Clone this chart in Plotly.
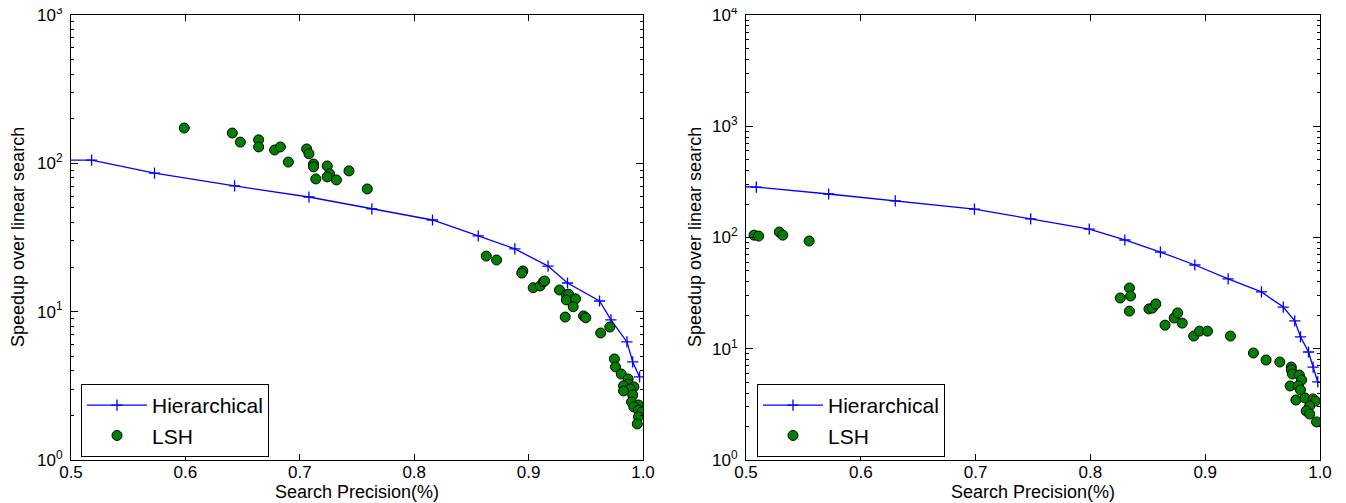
import plotly.graph_objects as go

# left panel: hierarchical curve and LSH scatter
hier_prec_a = [0.47, 0.518, 0.573, 0.643, 0.708, 0.763, 0.816, 0.856, 0.888, 0.917, 0.934,
               0.962, 0.972, 0.986, 0.991, 0.997]
hier_speed_a = [105, 105, 86, 70.4, 59.3, 49.3, 41.5, 32.4, 26.5, 20.3, 15.6,
                11.8, 8.8, 6.25, 4.58, 3.63]

lsh_prec_a = [0.599, 0.641, 0.648, 0.664, 0.664, 0.678, 0.683, 0.690, 0.706, 0.708, 0.712,
              0.712, 0.714, 0.724, 0.726, 0.724, 0.732, 0.743, 0.759,
              0.863, 0.872, 0.895, 0.894, 0.904, 0.910, 0.913, 0.914, 0.927, 0.933, 0.935,
              0.933, 0.941, 0.939, 0.932, 0.948, 0.950, 0.963, 0.971, 0.975, 0.976, 0.981,
              0.987, 0.987, 0.983, 0.992, 0.989, 0.983, 0.991, 0.990, 0.996, 0.992, 0.996,
              0.999, 0.996, 0.995]
lsh_speed_a = [173, 160, 139, 144, 129, 123, 129, 102, 125, 116, 99,
               94.6, 78.5, 96, 84.9, 81, 77.3, 88.9, 67.2,
               23.7, 22.3, 18.8, 18.2, 14.5, 14.9, 15.9, 16.1, 14.0, 13.0, 13.1,
               12.0, 12.2, 10.8, 9.2, 9.36, 9.1, 7.18, 7.88, 4.80, 4.24, 3.80,
               3.52, 3.25, 3.16, 3.11, 3.01, 2.92, 2.74, 2.46, 2.35, 2.28, 2.17,
               2.11, 1.95, 1.75]

# right panel
hier_prec_b = [0.47, 0.509, 0.572, 0.630, 0.699, 0.748, 0.799, 0.830, 0.861, 0.891, 0.920,
               0.949, 0.968, 0.978, 0.983, 0.990, 0.994, 0.998]
hier_speed_b = [292, 284, 246, 213, 180, 147, 119, 95, 74, 56.6, 42.4,
                32.4, 23.7, 17.8, 12.8, 9.35, 6.85, 5.03]

lsh_prec_b = [0.507, 0.511, 0.529, 0.532, 0.555,
              0.826, 0.834, 0.835, 0.834, 0.851, 0.854, 0.857, 0.865, 0.873, 0.876, 0.880,
              0.890, 0.895, 0.902, 0.922, 0.942, 0.953, 0.965, 0.975, 0.975, 0.976, 0.982,
              0.984, 0.974, 0.981, 0.983, 0.979, 0.987, 0.994, 0.996, 0.991, 0.988, 0.991,
              0.997]
lsh_speed_b = [105, 103, 112, 105, 93,
               28.6, 35.2, 29.8, 21.8, 22.8, 23.2, 25.3, 16.3, 18.9, 21.0, 17.0,
               13.0, 14.4, 14.4, 13.0, 9.16, 7.92, 7.6, 6.85, 6.44, 5.93, 5.81,
               5.24, 4.63, 4.63, 4.26, 3.46, 3.61, 3.54, 3.39, 3.06, 2.76, 2.59,
               2.20]

x_ticks = [0.5, 0.6, 0.7, 0.8, 0.9, 1.0]
x_title = "Search Precision(%)"
y_title = "Speedup over linear search"

FONT = "Liberation Sans, Arial, sans-serif"
BLUE = "#0000ff"
GREEN = "#008000"

W, H = 1346, 503
OFF = 8  # page body margin shifts the figure by this much


# convert screen pixels to paper fractions
def px(x):
    return (x - OFF) / W


def py(y):
    return 1 - (y - OFF) / H


fig = go.Figure()

panels = [
    (hier_prec_a, hier_speed_a, lsh_prec_a, lsh_speed_a, "x", "y", "legend"),
    (hier_prec_b, hier_speed_b, lsh_prec_b, lsh_speed_b, "x2", "y2", "legend2"),
]
for hp, hs, lp, ls, xa, ya, lg in panels:
    fig.add_trace(go.Scatter(x=hp, y=hs, mode="lines+markers", name="Hierarchical",
                             xaxis=xa, yaxis=ya, legend=lg,
                             line=dict(color=BLUE, width=1.3),
                             marker=dict(symbol="cross-thin", size=8,
                                         line=dict(color=BLUE, width=1.3))))
    fig.add_trace(go.Scatter(x=lp, y=ls, mode="markers", name="LSH",
                             xaxis=xa, yaxis=ya, legend=lg,
                             marker=dict(symbol="circle", size=10, color=GREEN,
                                         line=dict(color="black", width=1))))

axis_common = dict(showline=True, linecolor="black", linewidth=1, mirror="allticks",
                   ticks="inside", tickcolor="black", showgrid=False, zeroline=False,
                   tickfont=dict(family=FONT, size=17, color="black"),
                   ticklabeloverflow="allow", automargin=False)

# (left px, right px, decades, x-title centre, y-title x)
layouts = [(71, 643, 3, 357, 18), (746, 1320, 4, 1033, 695)]
annotations = []
for i, (x0, x1, top, xt, yt) in enumerate(layouts):
    sfx = "" if i == 0 else str(i + 1)
    fig.update_layout(**{
        "xaxis" + sfx: dict(axis_common, domain=[px(x0), px(x1)], range=[0.5, 1.0],
                            anchor="y" + sfx, tickvals=x_ticks,
                            ticktext=["%.1f" % v for v in x_ticks], ticklen=6,
                            ticklabelstandoff=-3),
        "yaxis" + sfx: dict(axis_common, domain=[py(460), py(15)], type="log", range=[0, top],
                            anchor="x" + sfx,
                            tickvals=[10 ** k for k in range(top + 1)],
                            ticktext=["10<sup>%d</sup>" % k for k in range(top + 1)],
                            ticklen=7, ticklabelstandoff=4,
                            minor=dict(ticks="inside", ticklen=3, tickcolor="black",
                                       dtick="D1", showgrid=False)),
    })
    annotations.append(dict(text=x_title, x=px(xt), y=py(492), xref="paper", yref="paper",
                            showarrow=False, xanchor="center", yanchor="middle",
                            font=dict(family=FONT, size=18, color="black")))
    annotations.append(dict(text=y_title, x=px(yt), y=py(237), xref="paper", yref="paper",
                            showarrow=False, xanchor="center", yanchor="middle", textangle=-90,
                            font=dict(family=FONT, size=18, color="black")))

legend_common = dict(bordercolor="black", borderwidth=1, bgcolor="white",
                     font=dict(family=FONT, size=21, color="black"),
                     xanchor="left", yanchor="top", tracegroupgap=0, itemwidth=60)
fig.update_layout(
    legend=dict(legend_common, x=px(81), y=py(384)),
    legend2=dict(legend_common, x=px(757), y=py(384)),
    annotations=annotations,
    width=W, height=H,
    margin=dict(l=0, r=0, t=0, b=0),
    plot_bgcolor="white", paper_bgcolor="white",
    font=dict(family=FONT, color="black"),
)

fig.write_html("out.html")
